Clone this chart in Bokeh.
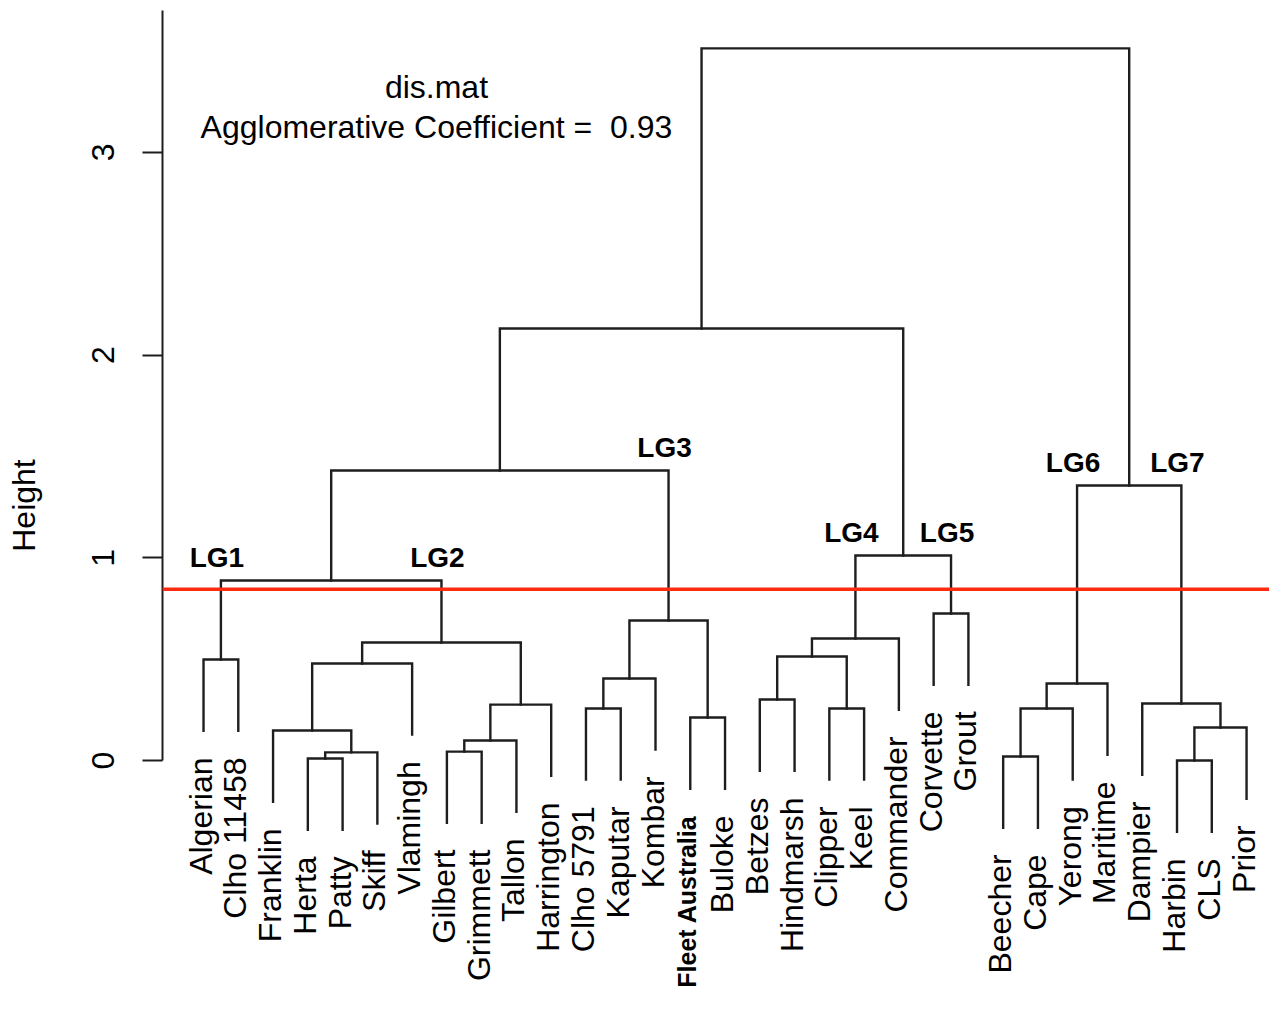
import math
from bokeh.plotting import figure
from bokeh.models import Range1d, FixedTicker, Span, ColumnDataSource
from bokeh.core.properties import value
from bokeh.embed import file_html
from bokeh.resources import INLINE

# Leaves in dendrogram order (left to right)
leaves = ["Algerian", "Clho 11458", "Franklin", "Herta", "Patty", "Skiff",
          "Vlamingh", "Gilbert", "Grimmett", "Tallon", "Harrington",
          "Clho 5791", "Kaputar", "Kombar", "Fleet Australia", "Buloke",
          "Betzes", "Hindmarsh", "Clipper", "Keel", "Commander", "Corvette",
          "Grout", "Beecher", "Cape", "Yerong", "Maritime", "Dampier",
          "Harbin", "CLS", "Prior"]

# Agglomeration steps: ids 0..30 are leaves, merge k creates cluster id 31 + k
merge_a = [28, 3, 23, 32, 7, 35, 2, 31, 14, 11, 18, 33, 36, 27, 16,
           42, 40, 37, 0, 45, 48, 50, 47, 21, 49, 52, 46, 55, 58, 59]
merge_b = [29, 4, 24, 5, 8, 9, 34, 30, 15, 12, 19, 25, 10, 38, 17,
           26, 13, 6, 1, 41, 43, 20, 39, 22, 51, 54, 44, 53, 56, 57]
merge_height = [0.00, 0.01, 0.02, 0.04, 0.044, 0.099, 0.148, 0.163, 0.212,
                0.257, 0.257, 0.257, 0.276, 0.281, 0.301, 0.380, 0.405,
                0.479, 0.498, 0.513, 0.582, 0.602, 0.691, 0.725, 0.888,
                1.011, 1.357, 1.431, 2.131, 3.513]

# Linkage groups and the cluster each one names
group_names = ["LG1", "LG2", "LG3", "LG4", "LG5", "LG6", "LG7"]
group_nodes = [49, 51, 53, 52, 54, 46, 44]

cut_height = 0.845
bold_leaves = ["Fleet Australia"]
title_lines = ["dis.mat", "Agglomerative Coefficient =\u00a0 0.93"]

FONT = "Liberation Sans"
W, H = 1269, 1010
LEFT = 162
X0, X1 = -1.18, 30.66
Y0, Y1 = -1.233, 3.749
units_per_px = (Y1 - Y0) / H
xunits_per_px = (X1 - X0) / (W - LEFT)

n = len(leaves)
node_x = {i: float(i) for i in range(n)}
node_h = {i: None for i in range(n)}
parent_h = {}
for k, (a, b, h) in enumerate(zip(merge_a, merge_b, merge_height)):
    nid = n + k
    node_x[nid] = (node_x[a] + node_x[b]) / 2
    node_h[nid] = h
    parent_h[a] = h
    parent_h[b] = h

hang = 0.1 * (max(merge_height) - min(merge_height))


def child_y(c, h):
    return h - hang if c < n else node_h[c]


xs, ys = [], []
for a, b, h in zip(merge_a, merge_b, merge_height):
    xs.append([node_x[a], node_x[a], node_x[b], node_x[b]])
    ys.append([child_y(a, h), h, h, child_y(b, h)])

p = figure(width=W, height=H, x_range=Range1d(X0, X1),
           y_range=Range1d(Y0, Y1), output_backend="svg",
           toolbar_location=None, x_axis_location=None,
           min_border_left=LEFT, min_border_right=0,
           min_border_top=0, min_border_bottom=0)
p.outline_line_color = None
p.xgrid.visible = False
p.ygrid.visible = False
p.background_fill_color = "white"
p.border_fill_color = "white"

ax = p.yaxis[0]
ax.ticker = FixedTicker(ticks=[0, 1, 2, 3])
ax.bounds = (0, 3.70)
ax.axis_line_width = 2
ax.axis_line_color = "#1e1e1e"
ax.major_tick_line_width = 2
ax.major_tick_line_color = "#1e1e1e"
ax.major_tick_out = 20
ax.major_tick_in = 0
ax.minor_tick_line_color = None
ax.major_label_orientation = "parallel"
ax.major_label_text_font = FONT
ax.major_label_text_font_size = "32px"
ax.major_label_text_color = "black"
ax.major_label_standoff = 28
ax.axis_label = "Height"
ax.axis_label_text_font = FONT
ax.axis_label_text_font_size = "32px"
ax.axis_label_text_font_style = "normal"
ax.axis_label_text_color = "black"
ax.axis_label_standoff = 48

p.multi_line(xs, ys, line_color="#1e1e1e", line_width=2.4,
             line_join="miter", line_cap="square")

# Leaf labels hang below each leaf, one "m" width down
gap = 0.833 * 32 * units_per_px
nudge = 3 * xunits_per_px
leaf_bottom = [parent_h[i] - hang for i in range(n)]
reg = [i for i in range(n) if leaves[i] not in bold_leaves]
bld = [i for i in range(n) if leaves[i] in bold_leaves]
src_reg = ColumnDataSource(dict(x=[i - nudge for i in reg],
                                y=[leaf_bottom[i] - gap for i in reg],
                                t=[leaves[i] for i in reg]))
src_bld = ColumnDataSource(dict(x=[i - nudge for i in bld],
                                y=[leaf_bottom[i] - gap for i in bld],
                                t=[leaves[i] for i in bld]))
p.text(x="x", y="y", text="t", source=src_reg, angle=math.pi / 2,
       text_align="right", text_baseline="middle",
       text_font=value(FONT), text_font_size=value("32px"),
       text_color="black")
p.text(x="x", y="y", text="t", source=src_bld, angle=math.pi / 2,
       text_align="right", text_baseline="middle",
       text_font=value(FONT), text_font_size=value("25px"),
       text_font_style="bold", text_color="black")

# Group labels sit just above the bar that joins each group
lg_src = ColumnDataSource(dict(
    x=[node_x[g] - 4 * xunits_per_px for g in group_nodes],
    y=[parent_h[g] + 23 * units_per_px for g in group_nodes],
    t=group_names))
p.text(x="x", y="y", text="t", source=lg_src, text_align="center",
       text_baseline="alphabetic", text_font=value(FONT),
       text_font_size=value("28px"), text_font_style="bold",
       text_color="black")

# Title block
p.text(x=[6.70, 6.70], y=[3.321, 3.123], text=title_lines,
       text_align="center", text_baseline="alphabetic",
       text_font=value(FONT), text_font_size=value("32px"),
       text_color="black")

p.add_layout(Span(location=cut_height, dimension="width",
                  line_color="#ff2a12", line_width=3.5))

open("out.html", "w").write(file_html(p, INLINE))
